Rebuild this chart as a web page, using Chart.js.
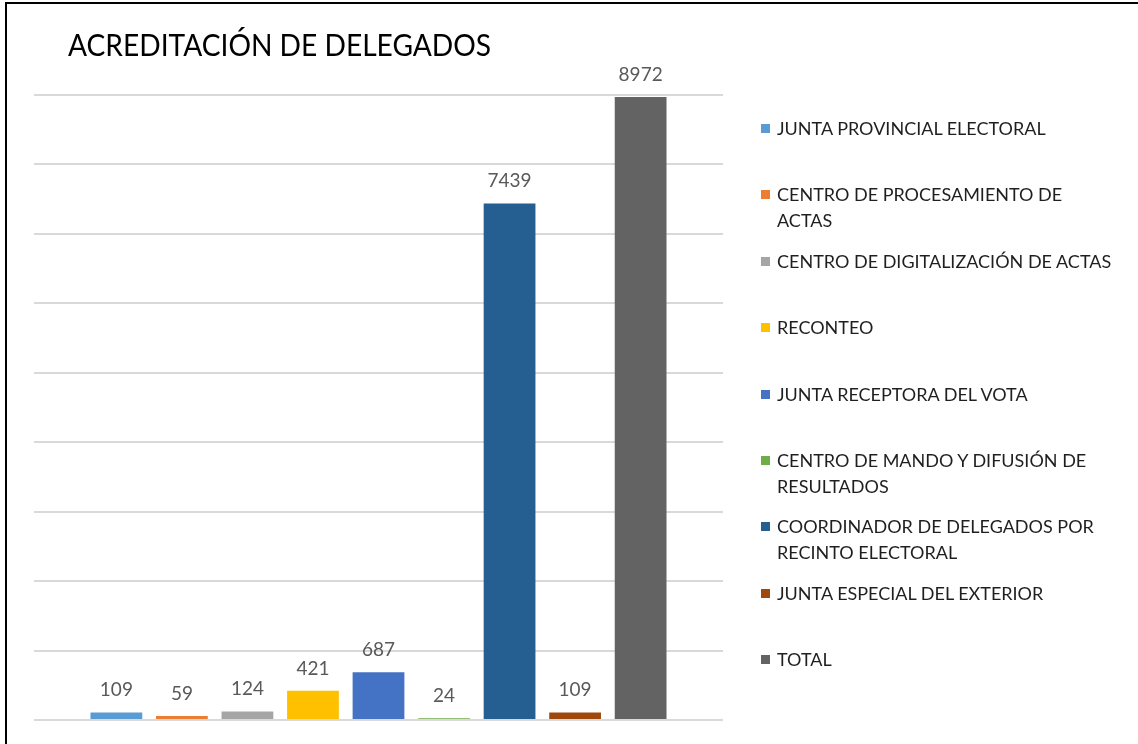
<!DOCTYPE html>
<html>
<head>
<meta charset="utf-8">
<script src="https://cdn.jsdelivr.net/npm/chart.js@4.4.1/dist/chart.umd.min.js"></script>
<style>
  html, body { margin: 0; padding: 0; background: #fff; }
  body { width: 1138px; height: 744px; position: relative; overflow: hidden; font-family: Lato, "Open Sans", sans-serif; }
  #frame { position: absolute; left: 5px; top: 2px; width: 1200px; height: 800px; border-left: 2px solid #000; border-top: 2px solid #000; box-sizing: border-box; }
  #title { position: absolute; left: 68px; top: 25px; font-size: 31px; color: #000; white-space: nowrap; transform: scaleX(0.908); transform-origin: 0 0; }
  #wrap { position: absolute; left: 0; top: 0; width: 1138px; height: 744px; }
  #legend { position: absolute; left: 0; top: 0; }
  .item { position: absolute; left: 761px; font-size: 18px; line-height: 26px; color: #1f1f1f; width: 370px; }
  .key { position: absolute; left: 0; top: 9px; width: 9px; height: 9px; }
  .txt { position: absolute; left: 16px; top: 0; white-space: nowrap; }
</style>
</head>
<body>
<div id="frame"></div>
<div id="wrap"><canvas id="c" width="1138" height="744"></canvas></div>
<div id="title">ACREDITACIÓN DE DELEGADOS</div>
<div id="legend"></div>
<script>
const seriesNames = [
  "JUNTA PROVINCIAL ELECTORAL",
  "CENTRO DE PROCESAMIENTO DE ACTAS",
  "CENTRO DE DIGITALIZACIÓN DE ACTAS",
  "RECONTEO",
  "JUNTA RECEPTORA DEL VOTA",
  "CENTRO DE MANDO Y DIFUSIÓN DE RESULTADOS",
  "COORDINADOR DE DELEGADOS POR RECINTO ELECTORAL",
  "JUNTA ESPECIAL DEL EXTERIOR",
  "TOTAL"
];
const legendLines = [
  ["JUNTA PROVINCIAL ELECTORAL"],
  ["CENTRO DE PROCESAMIENTO DE", "ACTAS"],
  ["CENTRO DE DIGITALIZACIÓN DE ACTAS"],
  ["RECONTEO"],
  ["JUNTA RECEPTORA DEL VOTA"],
  ["CENTRO DE MANDO Y DIFUSIÓN DE", "RESULTADOS"],
  ["COORDINADOR DE DELEGADOS POR", "RECINTO ELECTORAL"],
  ["JUNTA ESPECIAL DEL EXTERIOR"],
  ["TOTAL"]
];
const seriesValues = [109, 59, 124, 421, 687, 24, 7439, 109, 8972];
const seriesColors = ["#5B9BD5", "#ED7D31", "#A5A5A5", "#FFC000", "#4472C4", "#70AD47", "#255E91", "#9E480E", "#636363"];
const categories = [""];
const yMax = 9000;
const yStep = 1000;

const datasets = seriesNames.map((name, i) => ({
  label: name,
  data: [seriesValues[i]],
  backgroundColor: seriesColors[i],
  borderWidth: 0,
  categoryPercentage: 0.856,
  barPercentage: 0.79
}));

const valueLabels = {
  id: 'valueLabels',
  afterDatasetsDraw(chart) {
    const ctx = chart.ctx;
    ctx.save();
    ctx.font = '19px Lato, "Open Sans", sans-serif';
    ctx.fillStyle = '#595959';
    ctx.textAlign = 'center';
    ctx.textBaseline = 'alphabetic';
    chart.data.datasets.forEach((ds, i) => {
      const meta = chart.getDatasetMeta(i);
      meta.data.forEach((bar, j) => {
        ctx.fillText(String(ds.data[j]), bar.x, bar.y - 16);
      });
    });
    ctx.restore();
  }
};

new Chart(document.getElementById('c'), {
  type: 'bar',
  data: { labels: categories, datasets },
  options: {
    responsive: false,
    animation: false,
    events: [],
    layout: { padding: { left: 34, right: 415, top: 95, bottom: 24 } },
    plugins: { legend: { display: false }, tooltip: { enabled: false }, title: { display: false } },
    scales: {
      x: {
        grid: { display: false, drawTicks: false },
        border: { display: false },
        ticks: { display: false }
      },
      y: {
        min: 0, max: yMax,
        ticks: { display: false, stepSize: yStep },
        grid: { color: '#d9d9d9', lineWidth: 2, drawTicks: false },
        border: { display: false }
      }
    }
  },
  plugins: [valueLabels]
});

const legendEl = document.getElementById('legend');
legendLines.forEach((lines, i) => {
  const item = document.createElement('div');
  item.className = 'item';
  item.style.top = (115 + i * 66.4) + 'px';
  const key = document.createElement('div');
  key.className = 'key';
  key.style.background = seriesColors[i];
  const txt = document.createElement('div');
  txt.className = 'txt';
  txt.innerHTML = lines.map(l => l.replace(/&/g, '&amp;')).join('<br>');
  item.appendChild(key);
  item.appendChild(txt);
  legendEl.appendChild(item);
});
</script>
</body>
</html>
